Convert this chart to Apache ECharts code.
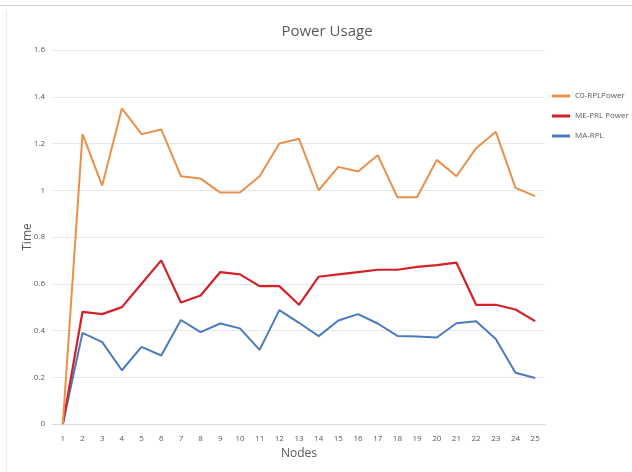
<!DOCTYPE html>
<html><head><meta charset="utf-8">
<style>html,body{margin:0;padding:0;background:#fff}#c{width:632px;height:472px}</style>
<script src="https://cdn.jsdelivr.net/npm/echarts@6/dist/echarts.min.js"></script>
</head><body><div id="c"></div>
<script>
const nodes = ['1','2','3','4','5','6','7','8','9','10','11','12','13','14','15','16','17','18','19','20','21','22','23','24','25'];
const c0Rpl = [0,1.24,1.02,1.35,1.24,1.26,1.06,1.05,0.99,0.99,1.06,1.20,1.22,1.00,1.10,1.08,1.15,0.97,0.97,1.13,1.06,1.18,1.25,1.01,0.975];
const mePrl = [0,0.48,0.47,0.50,0.60,0.70,0.52,0.55,0.65,0.64,0.59,0.59,0.51,0.63,0.64,0.65,0.66,0.66,0.672,0.68,0.69,0.51,0.51,0.49,0.44];
const maRpl = [0,0.39,0.35,0.23,0.33,0.293,0.445,0.393,0.43,0.409,0.317,0.487,0.433,0.376,0.443,0.47,0.43,0.377,0.374,0.37,0.431,0.44,0.364,0.219,0.197];
const seriesNames = ['C0-RPLPower','ME-PRL Power','MA-RPL'];
const colors = ['#e8914a','#d42027','#4a7bbf'];

const font = '"Open Sans", "Noto Sans", sans-serif';
const chart = echarts.init(document.getElementById('c'), null, {renderer:'canvas'});
chart.setOption({
  animation:false,
  backgroundColor:'#fff',
  title:{text:'Power Usage',left:322,textAlign:'center',top:19,
    textStyle:{fontFamily:font,fontSize:15,fontWeight:'normal',color:'#595959'}},
  legend:{orient:'vertical',left:552,top:92,padding:0,itemGap:12,itemWidth:18,itemHeight:3,
    icon:'rect',
    textStyle:{fontFamily:font,fontSize:8,color:'#595959'},
    data:seriesNames},
  grid:{left:53,right:87,top:50,bottom:48,containLabel:false},
  xAxis:{type:'category',data:nodes,boundaryGap:true,
    name:'Nodes',nameLocation:'middle',nameGap:24,nameMoveOverlap:false,
    nameTextStyle:{fontFamily:font,fontSize:12,color:'#595959'},
    axisLine:{show:true,lineStyle:{color:'#d9d9d9'}},axisTick:{show:false},
    axisLabel:{fontFamily:font,fontSize:8,color:'#595959',margin:11}},
  yAxis:{type:'value',min:0,max:1.6,interval:0.2,
    name:'Time',nameLocation:'middle',nameGap:19,nameMoveOverlap:false,
    nameTextStyle:{fontFamily:font,fontSize:12,color:'#595959'},
    axisLine:{show:false},axisTick:{show:false},
    axisLabel:{fontFamily:font,fontSize:8,color:'#595959',margin:8,
      formatter:v=>String(Math.round(v*10)/10)},
    splitLine:{lineStyle:{color:'#e6e6e6'}}},
  series:[
    {name:seriesNames[0],type:'line',data:c0Rpl,symbol:'none',lineStyle:{width:2,color:colors[0]},itemStyle:{color:colors[0]},z:3},
    {name:seriesNames[1],type:'line',data:mePrl,symbol:'none',lineStyle:{width:2.2,color:colors[1]},itemStyle:{color:colors[1]},z:2},
    {name:seriesNames[2],type:'line',data:maRpl,symbol:'none',lineStyle:{width:2,color:colors[2]},itemStyle:{color:colors[2]},z:1}
  ],
  graphic:[
    {type:'line',shape:{x1:0,y1:5.5,x2:632,y2:5.5},style:{stroke:'#d0d0d0',lineWidth:1}},
    {type:'line',shape:{x1:6.5,y1:10,x2:6.5,y2:472},style:{stroke:'#ececec',lineWidth:1}}
  ]
});
</script></body></html>
